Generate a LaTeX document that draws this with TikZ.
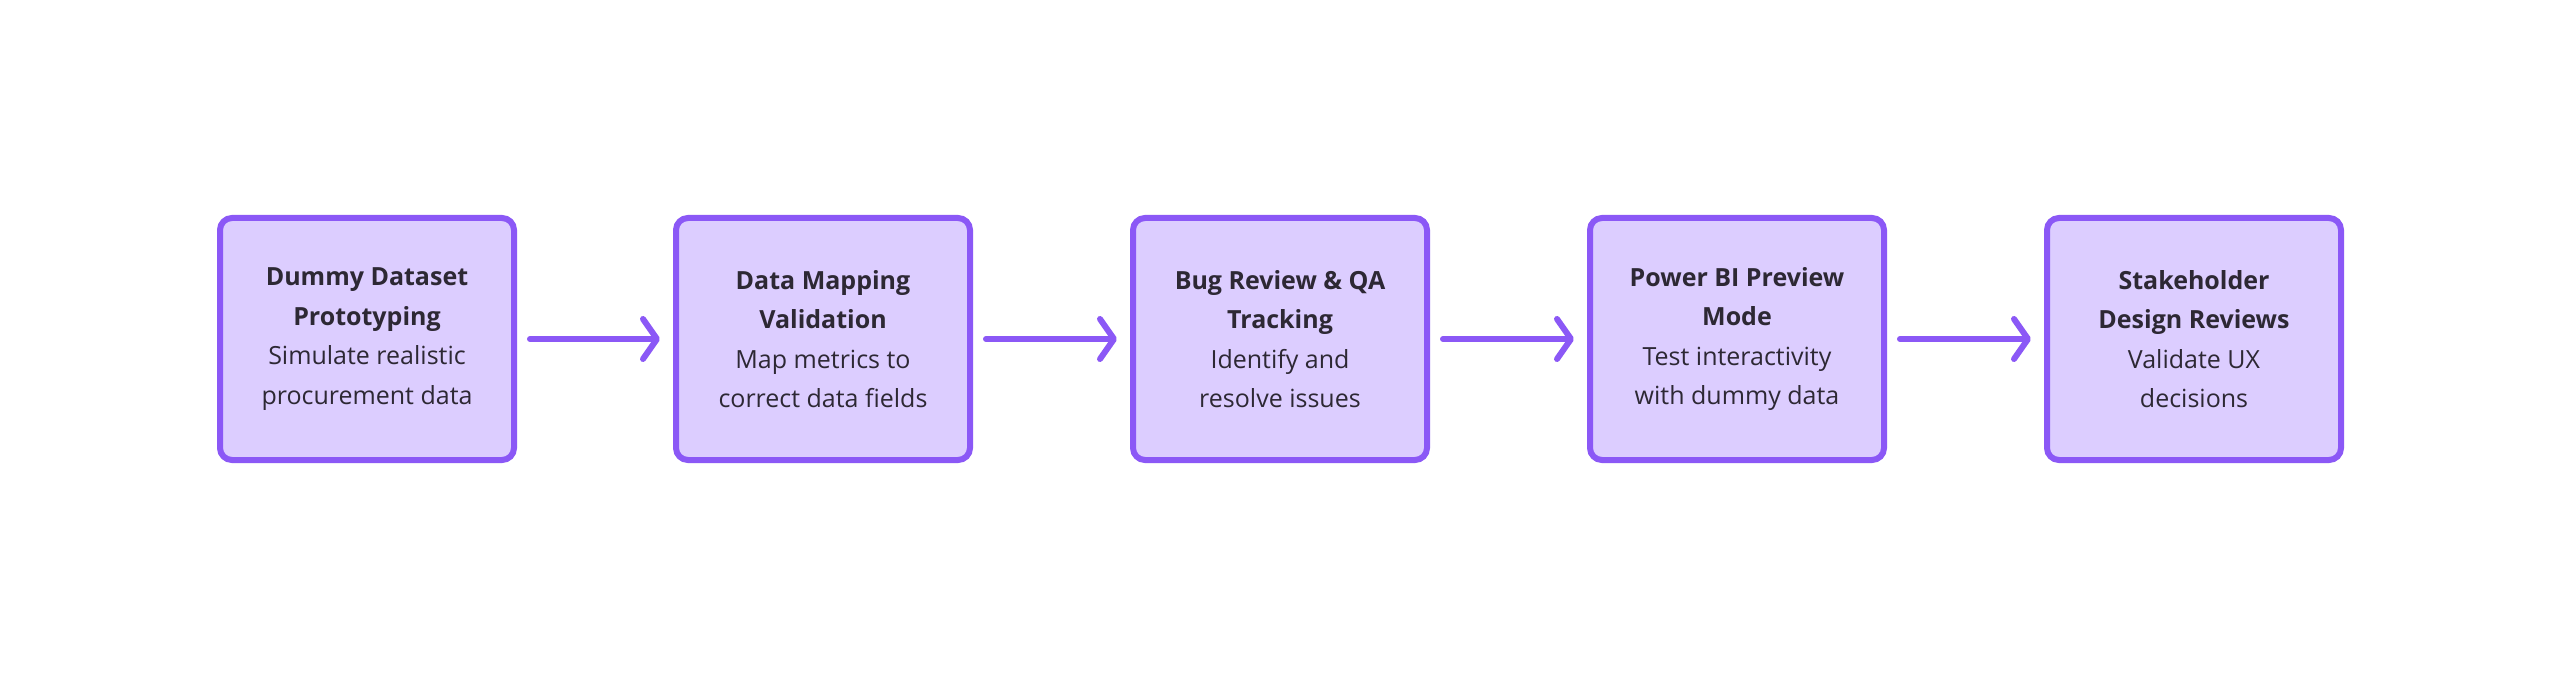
\documentclass[tikz,border=0pt]{standalone}
\usepackage{fontspec}
\setmainfont{Open Sans}
\usetikzlibrary{arrows.meta}
\definecolor{boxfill}{RGB}{220,205,255}
\definecolor{boxline}{RGB}{139,88,246}
\definecolor{txt}{RGB}{45,40,52}
\tikzset{
  stepbox/.style={draw=boxline, fill=boxfill, line width=6pt, rounded corners=12pt,
    minimum width=294pt, minimum height=242pt, inner sep=0pt, align=center,
    text=txt, font=\fontsize{25}{39.5}\selectfont},
  flow/.style={draw=boxline, line width=6pt, line cap=round, shorten <=13pt, shorten >=13pt,
    -{Straight Barb[length=14pt,width=40pt,line width=6pt,line cap=round,line join=round]}}
}
\begin{document}
\begin{tikzpicture}[x=1pt,y=1pt]
\useasboundingbox (0,0) rectangle (2560,-679);
\fill[white] (0,0) rectangle (2560,-679);
\node[stepbox] (a) at (367,-339) {\textbf{Dummy Dataset}\\\textbf{Prototyping}\\Simulate realistic\\procurement data};
\node[stepbox] (b) at (823,-339) {\textbf{Data Mapping}\\\textbf{Validation}\\Map metrics to\\correct data fields};
\node[stepbox] (c) at (1280,-339) {\textbf{Bug Review \& QA}\\\textbf{Tracking}\\Identify and\\resolve issues};
\node[stepbox] (d) at (1737,-339) {\textbf{Power BI Preview}\\\textbf{Mode}\\Test interactivity\\with dummy data};
\node[stepbox] (e) at (2194,-339) {\textbf{Stakeholder}\\\textbf{Design Reviews}\\Validate UX\\decisions};
\draw[flow] (a) -- (b);
\draw[flow] (b) -- (c);
\draw[flow] (c) -- (d);
\draw[flow] (d) -- (e);
\end{tikzpicture}
\end{document}
